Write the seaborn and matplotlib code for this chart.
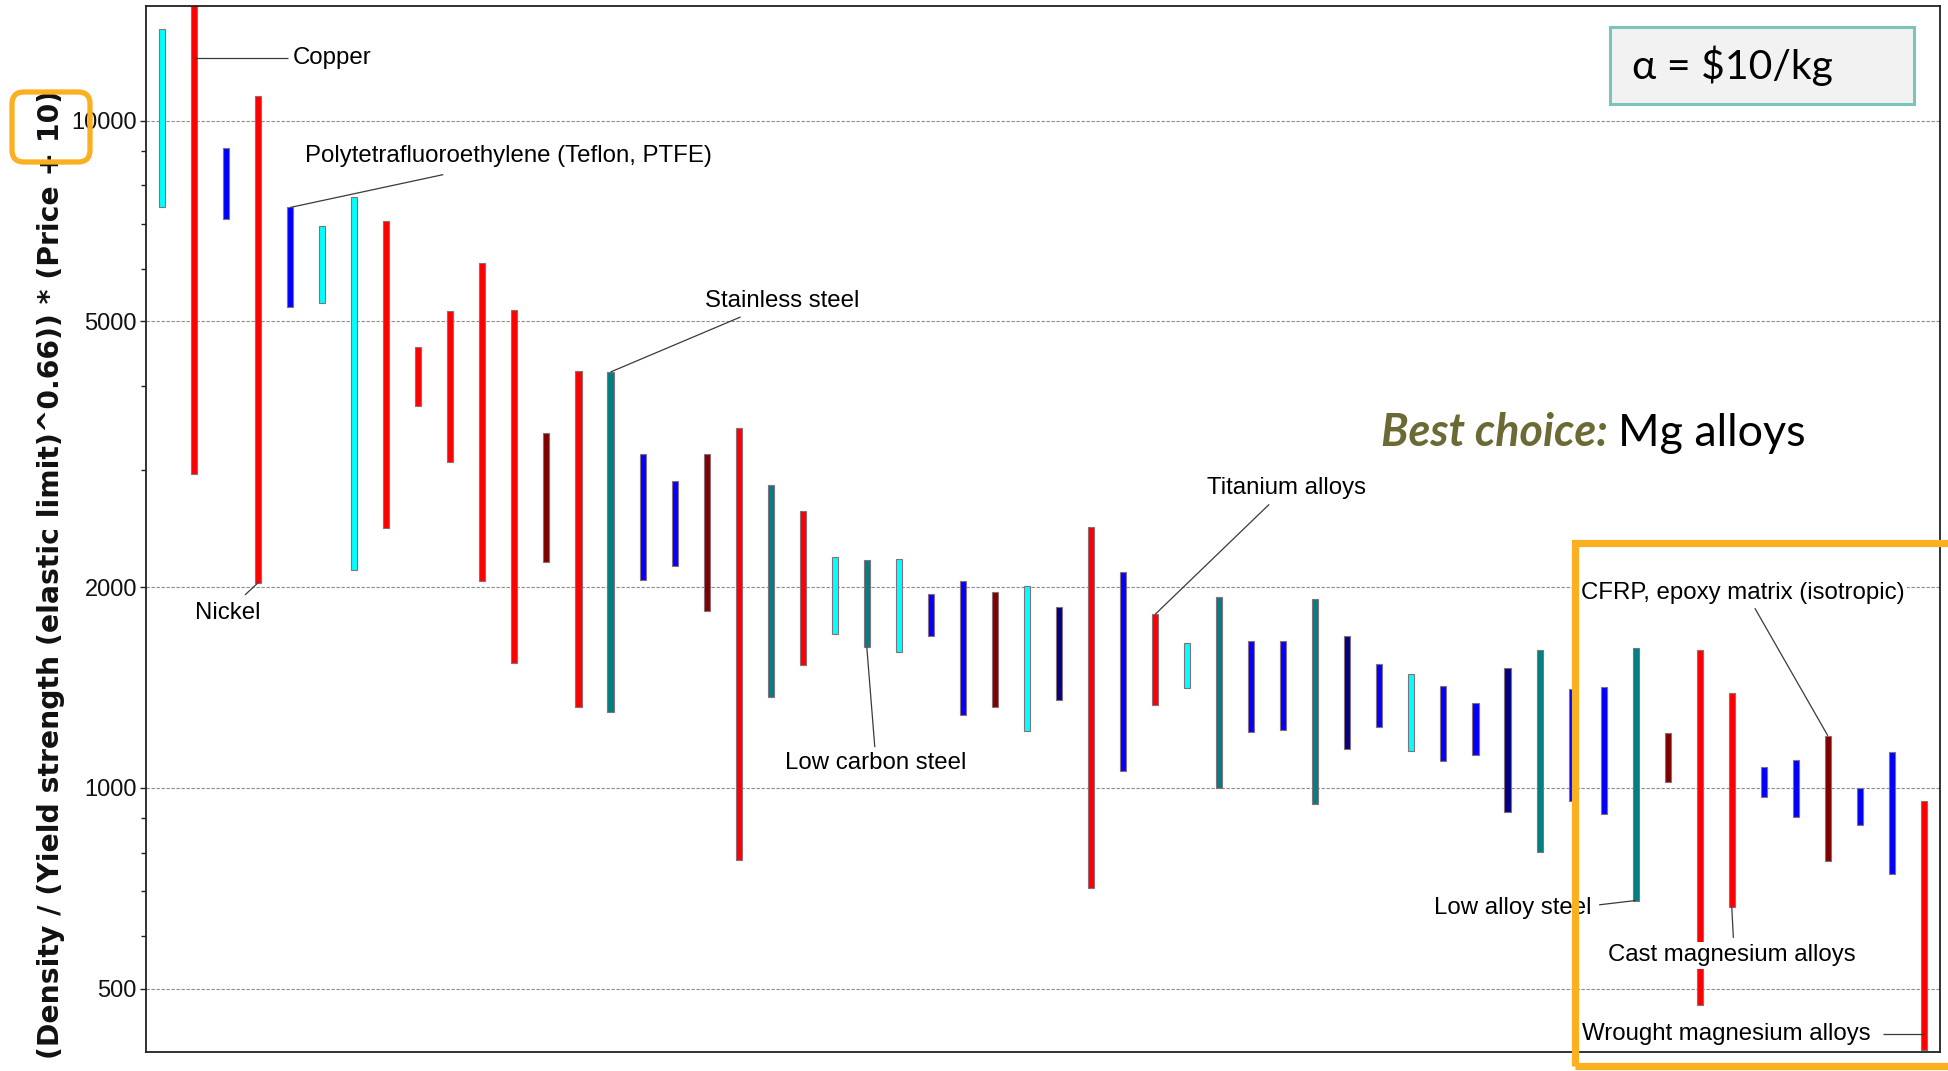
import numpy as np
import pandas as pd
import matplotlib
matplotlib.use("Agg")
import matplotlib.pyplot as plt
import seaborn as sns
from matplotlib.patches import Rectangle, FancyBboxPatch
from matplotlib.ticker import FixedLocator, FixedFormatter, NullFormatter

# ---------------------------------------------------------------------------
# Material index: (Density / YS^0.66) * (Price + 10), low and high bounds
# ---------------------------------------------------------------------------
materials = [
    "Material 01", "Copper", "Material 03", "Nickel",
    "Polytetrafluoroethylene (Teflon, PTFE)", "Material 06", "Material 07",
    "Material 08", "Material 09", "Material 10", "Material 11", "Material 12",
    "Material 13", "Material 14", "Stainless steel", "Material 16",
    "Material 17", "Material 18", "Material 19", "Material 20", "Material 21",
    "Material 22", "Low carbon steel", "Material 24", "Material 25",
    "Material 26", "Material 27", "Material 28", "Material 29", "Material 30",
    "Material 31", "Titanium alloys", "Material 33", "Material 34",
    "Material 35", "Material 36", "Material 37", "Material 38", "Material 39",
    "Material 40", "Material 41", "Material 42", "Material 43", "Material 44",
    "Material 45", "Material 46", "Low alloy steel", "Material 48",
    "Material 49", "Cast magnesium alloys", "Material 51", "Material 52",
    "CFRP, epoxy matrix (isotropic)", "Material 54", "Material 55",
    "Wrought magnesium alloys",
]

family = [
    "Elastomer", "Non-ferrous", "Thermoplastic", "Non-ferrous",
    "Thermoplastic", "Elastomer", "Elastomer", "Non-ferrous", "Non-ferrous",
    "Non-ferrous", "Non-ferrous", "Non-ferrous", "Composite", "Non-ferrous",
    "Ferrous", "Thermoplastic", "Thermoplastic", "Composite", "Non-ferrous",
    "Ferrous", "Non-ferrous", "Elastomer", "Ferrous", "Elastomer",
    "Thermoplastic", "Thermoplastic", "Composite", "Elastomer", "Thermoset",
    "Non-ferrous", "Thermoplastic", "Non-ferrous", "Elastomer", "Ferrous",
    "Thermoplastic", "Thermoplastic", "Ferrous", "Thermoset", "Thermoplastic",
    "Elastomer", "Thermoplastic", "Thermoplastic", "Thermoset", "Ferrous",
    "Thermoplastic", "Thermoplastic", "Ferrous", "Composite", "Non-ferrous",
    "Non-ferrous", "Thermoplastic", "Thermoplastic", "Composite",
    "Thermoplastic", "Thermoplastic", "Non-ferrous",
]

index_low = [
    7410, 2950, 7130, 2030, 5260, 5320, 2120, 2455, 3740, 3080,
    2040, 1540, 2180, 1320, 1300, 2050, 2150, 1840, 780, 1370,
    1530, 1700, 1625, 1600, 1690, 1285, 1320, 1215, 1355, 708,
    1060, 1330, 1410, 1000, 1213, 1220, 945, 1145, 1235, 1137,
    1098, 1120, 920, 802, 956, 915, 678, 1019, 472, 663,
    969, 903, 777, 881, 744, 405,
]

index_high = [
    13740, 15500, 9100, 10900, 7410, 6940, 7670, 7060, 4580, 5190,
    6110, 5210, 3400, 4220, 4200, 3160, 2880, 3170, 3460, 2840,
    2600, 2215, 2195, 2205, 1955, 2045, 1965, 2005, 1865, 2460,
    2110, 1820, 1650, 1930, 1660, 1660, 1920, 1690, 1535, 1480,
    1423, 1340, 1510, 1612, 1405, 1418, 1618, 1209, 1612, 1388,
    1075, 1102, 1197, 1000, 1133, 957,
]

major_ticks = [500, 1000, 2000, 5000, 10000]
minor_ticks = [600, 700, 800, 900, 3000, 4000, 6000, 7000, 8000, 9000]

family_colors = {
    "Non-ferrous": "#ff0000",
    "Ferrous": "#008080",
    "Thermoplastic": "#0000ff",
    "Elastomer": "#00ffff",
    "Composite": "#800000",
    "Thermoset": "#000080",
}

df = pd.DataFrame({
    "material": materials,
    "family": family,
    "low": index_low,
    "high": index_high,
})

# ---------------------------------------------------------------------------
sns.set_theme(style="white")
plt.rcParams["font.family"] = ["Liberation Sans", "DejaVu Sans"]

W, H = 1949, 1071
fig = plt.figure(figsize=(W / 100, H / 100), dpi=100)
fig.patch.set_facecolor("white")
ax = fig.add_axes([146 / W, 1 - 1052 / H, (1940 - 146) / W, (1052 - 6) / H])

sns.barplot(
    data=df, x="material", y="high", hue="material",
    order=materials, hue_order=materials,
    palette=[family_colors[f] for f in family], saturation=1,
    width=0.19, dodge=False, errorbar=None, legend=False,
    edgecolor="#8a6f7a", linewidth=0.8, ax=ax, zorder=2,
)

# turn each bar into a floating range bar from low to high
for patch in ax.patches:
    i = int(round(patch.get_x() + patch.get_width() / 2))
    patch.set_y(df["low"].iloc[i])
    patch.set_height(df["high"].iloc[i] - df["low"].iloc[i])

ax.set_yscale("log")
ax.set_ylim(402, 14850)
ax.set_xlim(-0.5, len(materials) - 0.5)
ax.set_xticks([])
ax.set_xlabel("")
ax.set_ylabel("")

ax.yaxis.set_major_locator(FixedLocator(major_ticks))
ax.yaxis.set_major_formatter(FixedFormatter([str(v) for v in major_ticks]))
ax.yaxis.set_minor_locator(FixedLocator(minor_ticks))
ax.yaxis.set_minor_formatter(NullFormatter())
ax.tick_params(axis="y", which="major", direction="out", length=4.5, width=1,
               color="#222222", labelsize=17, pad=2, left=True,
               labelcolor="#111111")
ax.tick_params(axis="y", which="minor", direction="out", length=3.3, width=1,
               color="#222222", left=True)
ax.yaxis.grid(True, which="major", linestyle=(0, (3, 1.5)), color="#8c8c8c",
              linewidth=0.8, zorder=0)
ax.set_axisbelow(True)
for s in ax.spines.values():
    s.set_color("#222222")
    s.set_linewidth(1.3)
    s.set_visible(True)

fig.text(51 / W, 1 - 574 / H,
         "(Density / (Yield strength (elastic limit)^0.66)) * (Price + 10)",
         rotation=90, ha="center", va="center", fontsize=20.3,
         family="DejaVu Sans", fontweight="bold", color="#111111")

# ---------------------------------------------------------------------------
# Named materials: label text and leader line to the bar
# ---------------------------------------------------------------------------
pos = {m: i for i, m in enumerate(materials)}
lo = dict(zip(materials, index_low))
hi = dict(zip(materials, index_high))

label_box = dict(boxstyle="square,pad=0.12", fc="white", ec="none")
lead = dict(color="#3a3a3a", lw=0.9, zorder=4, solid_capstyle="butt")

def leader(x0, y0, x1, y1):
    ax.plot([x0, x1], [y0, y1], **lead)

def label(x, y, s):
    ax.text(x, y, s, ha="left", va="center", fontsize=17.3, color="black",
            bbox=label_box, zorder=5)

label(4.09, 12410, "Copper")
leader(pos["Copper"], 12410, 3.94, 12410)

label(1.03, 1828, "Nickel")
leader(pos["Nickel"], lo["Nickel"], 2.59, 1946)

ptfe = "Polytetrafluoroethylene (Teflon, PTFE)"
label(4.47, 8850, ptfe)
leader(pos[ptfe], hi[ptfe], 8.78, 8300)

label(16.94, 5367, "Stainless steel")
leader(pos["Stainless steel"], hi["Stainless steel"], 18.06, 5078)

label(19.44, 1088, "Low carbon steel")
leader(pos["Low carbon steel"], lo["Low carbon steel"], 22.25, 1151)

label(32.63, 2815, "Titanium alloys")
leader(pos["Titanium alloys"], hi["Titanium alloys"], 34.56, 2660)

cfrp = "CFRP, epoxy matrix (isotropic)"
label(44.28, 1960, cfrp)
leader(pos[cfrp], hi[cfrp], 49.72, 1859)

label(39.7, 660, "Low alloy steel")
leader(pos["Low alloy steel"], lo["Low alloy steel"], 44.86, 668)

label(45.14, 561, "Cast magnesium alloys")
leader(pos["Cast magnesium alloys"], lo["Cast magnesium alloys"], 49.05, 596)

label(44.34, 428, "Wrought magnesium alloys")
leader(pos["Wrought magnesium alloys"], 428, 53.72, 428)

# ---------------------------------------------------------------------------
# Callouts
# ---------------------------------------------------------------------------
calibri_like = ["Lato", "Open Sans", "DejaVu Sans"]

fig.patches.append(Rectangle((1610 / W, 1 - 104 / H), 304 / W, 77 / H,
                             transform=fig.transFigure, fc="#f2f2f2",
                             ec="#7cc3bb", lw=2.2, zorder=6))
fig.text(1632 / W, 1 - 66 / H, "\u03b1 = $10/kg", ha="left", va="center",
         fontsize=29.5, family=calibri_like, color="black", zorder=7)

t1 = fig.text(1381 / W, 1 - 433 / H, "Best choice:", ha="left", va="center",
              fontsize=32.3, family=calibri_like, fontweight="bold",
              fontstyle="italic", color="#6b6a35", zorder=7)
ax.annotate("Mg alloys", xy=(1, 0), xycoords=t1, xytext=(7, 0),
            textcoords="offset points", ha="left", va="bottom",
            fontsize=32.3, family=calibri_like, color="black",
            annotation_clip=False, zorder=7)

orange = "#fbb022"
fig.patches.append(FancyBboxPatch((0.12, (H - 162) / 100), 0.78, 0.70,
                                  boxstyle="round,pad=0,rounding_size=0.12",
                                  transform=fig.dpi_scale_trans, fc="none",
                                  ec=orange, lw=3.8, zorder=8))
fig.patches.append(Rectangle((1575 / W, 1 - 1066 / H), 400 / W, 523 / H,
                             transform=fig.transFigure, fc="none",
                             ec=orange, lw=5.2, zorder=8, clip_on=False))

fig.savefig("out.png", dpi=100, facecolor="white")
